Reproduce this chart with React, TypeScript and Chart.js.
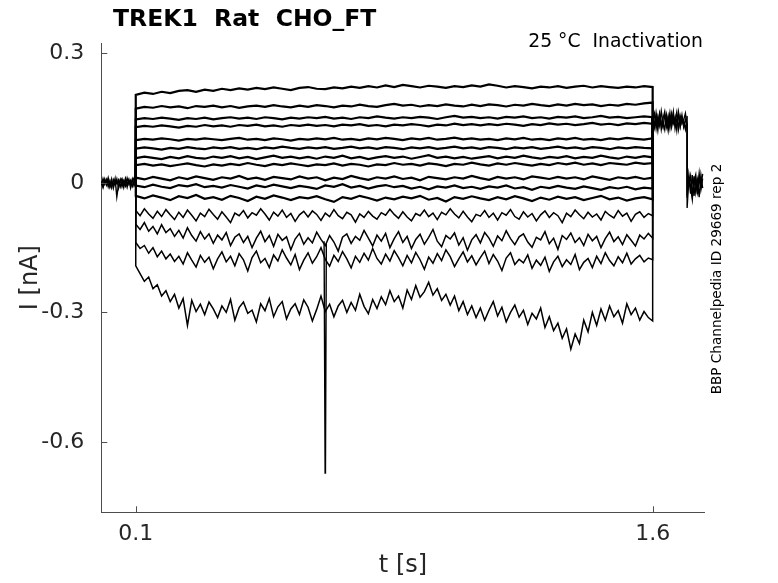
import { useEffect, useRef } from 'react';
import { Chart, registerables } from 'chart.js';

Chart.register(...registerables);

// sample times (s)
const PRE_T = [
  0.000, 0.005, 0.010, 0.015, 0.020, 0.025, 0.030, 0.035, 0.040, 0.045,
  0.050, 0.055, 0.060, 0.065, 0.070, 0.075, 0.080, 0.085, 0.090, 0.095,
  0.100,
];
const STEP_T = [
  0.100, 0.125, 0.150, 0.175, 0.200, 0.225, 0.250, 0.275, 0.300, 0.325,
  0.350, 0.375, 0.400, 0.425, 0.450, 0.475, 0.500, 0.525, 0.550, 0.575,
  0.600, 0.625, 0.650, 0.675, 0.700, 0.725, 0.750, 0.775, 0.800, 0.825,
  0.850, 0.875, 0.900, 0.925, 0.950, 0.975, 1.000, 1.025, 1.050, 1.075,
  1.100, 1.125, 1.150, 1.175, 1.200, 1.225, 1.250, 1.275, 1.300, 1.325,
  1.350, 1.375, 1.400, 1.425, 1.450, 1.475, 1.500, 1.525, 1.550, 1.575,
  1.600,
];
// finer sampling for the noisy negative traces
const STEP_FINE_T = [
  0.1000, 0.1125, 0.1250, 0.1375, 0.1500, 0.1625, 0.1750, 0.1875, 0.2000, 0.2125,
  0.2250, 0.2375, 0.2500, 0.2625, 0.2750, 0.2875, 0.3000, 0.3125, 0.3250, 0.3375,
  0.3500, 0.3625, 0.3750, 0.3875, 0.4000, 0.4125, 0.4250, 0.4375, 0.4500, 0.4625,
  0.4750, 0.4875, 0.5000, 0.5125, 0.5250, 0.5375, 0.5500, 0.5625, 0.5750, 0.5875,
  0.6000, 0.6125, 0.6250, 0.6375, 0.6500, 0.6625, 0.6750, 0.6875, 0.7000, 0.7125,
  0.7250, 0.7375, 0.7500, 0.7625, 0.7750, 0.7875, 0.8000, 0.8125, 0.8250, 0.8375,
  0.8500, 0.8625, 0.8750, 0.8875, 0.9000, 0.9125, 0.9250, 0.9375, 0.9500, 0.9625,
  0.9750, 0.9875, 1.0000, 1.0125, 1.0250, 1.0375, 1.0500, 1.0625, 1.0750, 1.0875,
  1.1000, 1.1125, 1.1250, 1.1375, 1.1500, 1.1625, 1.1750, 1.1875, 1.2000, 1.2125,
  1.2250, 1.2375, 1.2500, 1.2625, 1.2750, 1.2875, 1.3000, 1.3125, 1.3250, 1.3375,
  1.3500, 1.3625, 1.3750, 1.3875, 1.4000, 1.4125, 1.4250, 1.4375, 1.4500, 1.4625,
  1.4750, 1.4875, 1.5000, 1.5125, 1.5250, 1.5375, 1.5500, 1.5625, 1.5750, 1.5875,
  1.6000,
];
const TAIL_T = [
  1.600, 1.605, 1.610, 1.615, 1.620, 1.625, 1.630, 1.635, 1.640, 1.645,
  1.650, 1.655, 1.660, 1.665, 1.670, 1.675, 1.680, 1.685, 1.690, 1.695,
  1.700,
];
const POST_T = [1.700, 1.705, 1.710, 1.715, 1.720, 1.725, 1.730, 1.735, 1.740, 1.745];

// currents (pA)
const HOLD_LEVEL = 0;
const PRE_A = [4, -8, 9, -5, 7, -10, 3, -6, 10, -32, -4, 8, -9, 5, -7, 11, -3, 6, -8, 4, 0];
const PRE_B = [-6, 10, -3, 8, -9, 5, -11, 7, -4, 9, -12, 3, 10, -6, 8, -10, 6, -5, 9, -7, 2];
const PRE_C = [2, -11, 6, -3, 12, -7, 9, -12, 5, -2, 7, -9, 4, -11, 10, -4, 8, -12, 3, 11, -5];

const TRACE_1 = [
  204, 209, 206, 211, 208, 213, 215, 211, 216, 213,
  218, 215, 219, 216, 220, 217, 221, 218, 215, 220,
  222, 218, 217, 221, 219, 223, 220, 224, 221, 226,
  222, 227, 224, 221, 225, 223, 220, 224, 222, 226,
  223, 228, 225, 221, 224, 222, 219, 223, 221, 224,
  220, 223, 225, 221, 224, 222, 220, 223, 221, 224,
  222,
];
const TRACE_2 = [
  172, 176, 174, 178, 175, 177, 173, 178, 176, 179,
  175, 178, 174, 177, 179, 176, 180, 177, 175, 179,
  176, 180, 178, 175, 179, 177, 181, 178, 176, 180,
  183, 179, 181, 177, 180, 178, 182, 179, 177, 181,
  178, 182, 180, 177, 181, 179, 183, 180, 178, 182,
  179, 183, 180, 182, 178, 181, 179, 183, 181, 184,
  186,
];
const TRACE_3 = [
  147, 150, 148, 151, 149, 146, 150, 148, 151, 147,
  150, 152, 149, 151, 148, 152, 150, 147, 151, 149,
  152, 150, 153, 149, 151, 148, 152, 150, 154, 151,
  149, 152, 150, 153, 151, 148, 152, 155, 151, 153,
  150, 152, 149, 153, 151, 154, 150, 152, 149, 153,
  151, 154, 150, 152, 155, 151, 153, 150, 152, 154,
  152,
];
const TRACE_4 = [
  129, 132, 130, 133, 131, 128, 132, 130, 134, 131,
  133, 130, 134, 132, 135, 131, 133, 130, 134, 132,
  135, 132, 134, 131, 135, 133, 136, 132, 134, 131,
  135, 133, 136, 134, 131, 135, 133, 137, 134, 136,
  133, 136, 134, 137, 135, 132, 136, 134, 138, 135,
  137, 134, 136, 139, 135, 137, 134, 138, 136, 139,
  137,
];
const TRACE_5 = [
  99, 102, 100, 103, 101, 98, 102, 100, 103, 101,
  99, 102, 104, 100, 102, 99, 103, 101, 98, 102,
  100, 103, 101, 104, 100, 102, 99, 103, 101, 104,
  102, 99, 103, 101, 104, 100, 102, 105, 101, 103,
  100, 102, 99, 103, 101, 104, 100, 102, 99, 103,
  101, 104, 100, 102, 99, 103, 101, 104, 102, 100,
  103,
];
const TRACE_6 = [
  79, 82, 80, 77, 81, 79, 83, 80, 78, 82,
  80, 83, 79, 81, 78, 82, 80, 84, 81, 79,
  82, 80, 83, 79, 81, 84, 80, 82, 79, 83,
  81, 78, 82, 80, 83, 79, 81, 84, 80, 82,
  79, 83, 81, 78, 82, 80, 83, 79, 81, 84,
  80, 82, 79, 83, 81, 78, 82, 80, 83, 81,
  80,
];
const TRACE_7 = [
  57, 61, 58, 55, 60, 57, 62, 58, 56, 61,
  58, 62, 57, 60, 55, 59, 63, 58, 61, 57,
  60, 56, 61, 58, 63, 57, 60, 55, 59, 62,
  58, 61, 56, 60, 64, 58, 61, 57, 60, 56,
  59, 62, 57, 61, 58, 63, 59, 56, 60, 58,
  62, 57, 60, 58, 63, 59, 56, 61, 58, 62,
  59,
];
const TRACE_8 = [
  41, 44, 40, 43, 39, 42, 45, 41, 38, 43,
  40, 44, 41, 46, 42, 39, 44, 41, 45, 42,
  39, 43, 41, 45, 40, 44, 42, 38, 43, 41,
  46, 42, 44, 40, 45, 43, 39, 44, 42, 47,
  43, 40, 45, 42, 46, 43, 40, 44, 41, 46,
  43, 47, 42, 45, 41, 46, 44, 42, 47, 44,
  46,
];
const TRACE_9 = [
  12, 8, 14, 10, 6, 13, 9, 15, 11, 7,
  13, 10, 16, 9, 12, 7, 14, 11, 8, 15,
  10, 13, 6, 12, 9, 16, 11, 7, 13, 10,
  15, 9, 12, 6, 14, 11, 8, 13, 10, 16,
  11, 7, 14, 10, 13, 8, 15, 12, 9, 14,
  10, 13, 8, 15, 11, 7, 13, 10, 14, 9,
  12,
];
const TRACE_10 = [
  -6, -10, -4, -9, -12, -5, -8, -3, -10, -7,
  -11, -5, -9, -13, -6, -10, -4, -8, -12, -7,
  -10, -14, -6, -9, -3, -11, -7, -13, -8, -5,
  -10, -7, -13, -9, -15, -8, -11, -6, -12, -9,
  -14, -8, -11, -6, -13, -10, -16, -9, -12, -7,
  -11, -14, -8, -12, -16, -10, -13, -9, -15, -11,
  -13,
];
const TRACE_11 = [
  -30, -36, -29, -34, -40, -31, -35, -28, -37, -33,
  -39, -30, -35, -42, -32, -37, -29, -34, -40, -33,
  -36, -31, -38, -44, -33, -37, -30, -35, -41, -34,
  -38, -32, -36, -30, -39, -35, -43, -33, -37, -31,
  -36, -40, -33, -38, -31, -36, -42, -34, -39, -32,
  -37, -33, -40, -35, -30, -38, -34, -41, -36, -33,
  -38,
];
const TRACE_12 = [
  -64, -76, -60, -72, -82, -66, -78, -62, -74, -85,
  -68, -80, -63, -75, -88, -70, -78, -61, -73, -84,
  -67, -79, -92, -70, -76, -64, -81, -69, -75, -60,
  -72, -86, -68, -77, -63, -80, -71, -89, -74, -66,
  -79, -65, -73, -87, -70, -78, -62, -76, -83, -68,
  -74, -91, -72, -80, -66, -77, -84, -69, -75, -61,
  -73, -82, -67, -79, -88, -71, -76, -63, -78, -70,
  -85, -68, -74, -60, -72, -81, -66, -79, -90, -73,
  -77, -64, -80, -70, -86, -69, -75, -62, -78, -84,
  -67, -79, -71, -88, -74, -65, -80, -69, -76, -92,
  -70, -78, -63, -74, -83, -68, -79, -72, -86, -66,
  -75, -81, -64, -77, -70, -89, -73, -67, -80, -71,
  -76,
];
const TRACE_13 = [
  -96, -108, -92, -112, -101, -118, -97, -115, -106, -124,
  -110, -128, -104, -122, -135, -113, -130, -118, -140, -121,
  -132, -115, -145, -126, -118, -138, -124, -150, -128, -112,
  -136, -122, -147, -119, -133, -125, -155, -130, -117, -142,
  -127, -139, -114, -131, -145, -122, -137, -158, -126, -118,
  -140, -124, -133, -110, -128, -146, -121, -135, -117, -150,
  -129, -113, -138, -124, -152, -131, -119, -142, -126, -108,
  -135, -148, -122, -130, -116, -144, -127, -156, -132, -120,
  -139, -115, -128, -147, -123, -134, -111, -129, -143, -125,
  -118, -137, -149, -126, -132, -113, -141, -128, -154, -122,
  -131, -116, -138, -127, -145, -119, -134, -124, -150, -129,
  -114, -136, -125, -143, -120, -133, -146, -121, -130, -117,
  -128,
];
const TRACE_14 = [
  -138, -152, -145, -163, -150, -171, -158, -176, -165, -182,
  -170, -188, -162, -179, -195, -168, -184, -172, -199, -176,
  -160, -183, -170, -192, -164, -178, -204, -173, -158, -185,
  -175, -196, -167, -181, -155, -174, -190, -166, -201, -179,
  -162, -186, -171, -150, -177, -193, -168, -182, -159, -176,
  -197, -170, -184, -163, -179, -152, -175, -188, -165, -181,
  -157, -173, -192, -168, -185, -161, -178, -200, -172, -186,
  -164, -180, -155, -171, -194, -176, -160, -183, -169, -190,
  -173, -158, -187, -166, -181, -203, -174, -162, -189, -177,
  -185, -167, -198, -179, -191, -172, -205, -183, -170, -194,
  -178, -189, -166, -201, -184, -175, -196, -170, -187, -162,
  -180, -192, -171, -185, -163, -188, -176, -168, -183, -174,
  -178,
];
const TRACE_15 = [
  -192, -210, -228, -218, -245, -236, -262, -250, -275, -258,
  -290, -268, -330, -272, -298, -281, -305, -276, -292, -312,
  -285, -300, -270, -318, -289, -276, -302, -295, -322, -280,
  -296, -268, -310, -287, -275, -315, -292, -280, -305, -271,
  -288, -320, -293, -262, -298, -281, -310, -285, -272, -300,
  -277, -295, -258, -286, -303, -270, -291, -264, -282, -250,
  -275, -262, -290, -248, -270, -238, -265, -252, -230, -260,
  -245, -272, -258, -283, -262, -296, -275, -305, -285, -312,
  -290, -318, -295, -275, -308, -288, -322, -300, -283, -311,
  -295, -328, -302, -315, -290, -335, -310, -342, -325, -360,
  -338, -385, -350, -372, -318, -345, -300, -330, -292, -318,
  -285, -310, -296, -325, -280, -305, -290, -318, -298, -312,
  -320,
];
const TRACES = [
  TRACE_1, TRACE_2, TRACE_3, TRACE_4, TRACE_5, TRACE_6, TRACE_7, TRACE_8,
  TRACE_9, TRACE_10, TRACE_11,
];
const FINE_TRACES = [TRACE_12, TRACE_13, TRACE_14, TRACE_15];

const TAIL_A = [150, 128, 162, 135, 158, 124, 149, 165, 131, 155, 127, 160, 138, 152, 122, 163, 133, 157, 129, 147, 136];
const TAIL_B = [142, 160, 126, 154, 133, 166, 140, 123, 158, 136, 162, 129, 151, 144, 164, 125, 155, 137, 146, 161, 130];
const TAIL_C = [158, 134, 150, 122, 161, 143, 128, 156, 147, 121, 153, 139, 165, 126, 148, 159, 130, 152, 141, 124, 155];
const POST_A = [-58, 12, -25, 18, -30, 8, -20, 22, -15, 10];
const POST_B = [-35, 20, -10, -38, 15, -22, 6, -33, 18, -12];
const POST_C = [-20, -5, 16, -28, 4, 19, -26, 11, -8, 21];

const SPIKE_T = [0.6465, 0.6495, 0.6505, 0.653];
const SPIKE_I = [-135, -672, -662, -140];

const X_TICKS = [0.1, 1.6];
const X_TICK_LABELS = ['0.1', '1.6'];
const Y_TICKS = [-0.6, -0.3, 0, 0.3];
const Y_TICK_LABELS = ['-0.6', '-0.3', '0', '0.3'];

const TITLE = 'TREK1  Rat  CHO_FT';
const SUBTITLE = '25 °C  Inactivation';
const SIDE_NOTE = 'BBP Channelpedia ID 29669 rep 2';

const FONT = 'DejaVu Sans';
const AXIS_COLOR = '#4d4d4d';
const TEXT_COLOR = '#262626';

const toPoints = (t: number[], pA: number[]) => t.map((x, i) => ({ x, y: pA[i] / 1000 }));

const line = (data: { x: number; y: number }[], width = 1.4) => ({
  data,
  borderColor: '#000',
  borderWidth: width,
  pointRadius: 0,
  fill: false,
  tension: 0,
});

const overlay = {
  id: 'overlay',
  afterDraw(chart: Chart) {
    const { ctx, chartArea, scales } = chart;
    ctx.save();
    // inward tick marks, MATLAB style
    ctx.strokeStyle = AXIS_COLOR;
    ctx.lineWidth = 1;
    ctx.beginPath();
    X_TICKS.forEach(v => {
      const px = Math.round(scales.x.getPixelForValue(v)) + 0.5;
      ctx.moveTo(px, chartArea.bottom);
      ctx.lineTo(px, chartArea.bottom - 6);
    });
    Y_TICKS.forEach(v => {
      const py = Math.round(scales.y.getPixelForValue(v)) + 0.5;
      ctx.moveTo(chartArea.left, py);
      ctx.lineTo(chartArea.left + 6, py);
    });
    ctx.stroke();

    ctx.fillStyle = '#000';
    ctx.font = `bold 23.5px "${FONT}"`;
    ctx.textAlign = 'left';
    ctx.textBaseline = 'alphabetic';
    ctx.fillText(TITLE, 113, 26);

    ctx.font = `18.8px "${FONT}"`;
    ctx.textAlign = 'right';
    ctx.fillText(SUBTITLE, 703, 47);

    ctx.font = `13.6px "${FONT}"`;
    ctx.translate(717, 279);
    ctx.rotate(-Math.PI / 2);
    ctx.textAlign = 'center';
    ctx.textBaseline = 'middle';
    ctx.fillText(SIDE_NOTE, 0, 0);
    ctx.restore();
  },
};

export default function App() {
  const canvasRef = useRef<HTMLCanvasElement>(null);
  const chartRef = useRef<Chart | null>(null);

  useEffect(() => {
    if (!canvasRef.current) return;
    if (chartRef.current) chartRef.current.destroy();

    const stepTrace = (t: number[], tr: number[], width: number) =>
      line(
        [
          { x: t[0], y: HOLD_LEVEL },
          ...toPoints(t, tr),
          { x: t[t.length - 1], y: TAIL_A[0] / 1000 },
        ],
        width
      );

    const datasets = [
      line(toPoints(PRE_T, PRE_A)),
      line(toPoints(PRE_T, PRE_B)),
      line(toPoints(PRE_T, PRE_C)),
      ...TRACES.map(tr => stepTrace(STEP_T, tr, 2.2)),
      ...FINE_TRACES.map(tr => stepTrace(STEP_FINE_T, tr, 1.5)),
      line([...toPoints(TAIL_T, TAIL_A), ...toPoints(POST_T, POST_A)]),
      line([...toPoints(TAIL_T, TAIL_B), ...toPoints(POST_T, POST_B)]),
      line([...toPoints(TAIL_T, TAIL_C), ...toPoints(POST_T, POST_C)]),
      line(toPoints(SPIKE_T, SPIKE_I)),
    ];

    chartRef.current = new Chart(canvasRef.current, {
      type: 'line',
      data: { datasets },
      options: {
        responsive: false,
        animation: false,
        layout: { padding: { left: 0, top: 43, right: 73.3, bottom: 0 } },
        plugins: {
          legend: { display: false },
          tooltip: { enabled: false },
          title: { display: false },
        },
        scales: {
          x: {
            type: 'linear',
            min: 0,
            max: 1.751,
            grid: { display: false, drawTicks: false },
            border: { display: true, color: AXIS_COLOR, width: 1 },
            afterFit: (s: any) => { s.height = 70.7; },
            afterBuildTicks: (s: any) => { s.ticks = X_TICKS.map(value => ({ value })); },
            ticks: {
              autoSkip: false,
              maxRotation: 0,
              padding: 9,
              color: TEXT_COLOR,
              font: { family: FONT, size: 22 },
              callback: (_v: any, i: number) => X_TICK_LABELS[i],
            },
            title: {
              display: true,
              text: 't [s]',
              color: TEXT_COLOR,
              font: { family: FONT, size: 24 },
              padding: { top: 0, bottom: 3 },
            },
          },
          y: {
            type: 'linear',
            min: -0.763,
            max: 0.324,
            grid: { display: false, drawTicks: false },
            border: { display: true, color: AXIS_COLOR, width: 1 },
            afterFit: (s: any) => { s.width = 101.3; },
            afterBuildTicks: (s: any) => { s.ticks = Y_TICKS.map(value => ({ value })); },
            ticks: {
              autoSkip: false,
              padding: 17,
              color: TEXT_COLOR,
              font: { family: FONT, size: 22 },
              callback: (_v: any, i: number) => Y_TICK_LABELS[i],
            },
            title: {
              display: true,
              text: 'I [nA]',
              color: TEXT_COLOR,
              font: { family: FONT, size: 24 },
              padding: { top: 16, bottom: 0 },
            },
          },
        },
      },
      plugins: [overlay],
    });

    return () => {
      if (chartRef.current) {
        chartRef.current.destroy();
        chartRef.current = null;
      }
    };
  }, []);

  return (
    <div style={{ position: 'fixed', left: 0, top: 0, width: 778, height: 583, background: 'white' }}>
      <canvas ref={canvasRef} width={778} height={583} />
    </div>
  );
}
